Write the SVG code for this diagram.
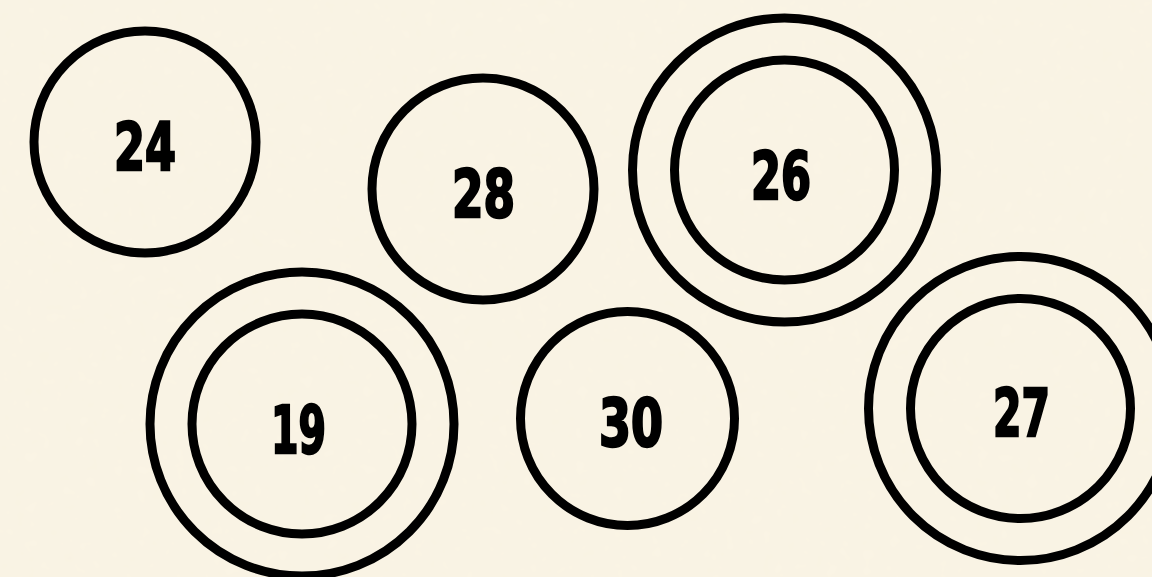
<svg xmlns="http://www.w3.org/2000/svg" width="1152" height="577" viewBox="0 0 1152 577">
<style>
.ring{fill:none;stroke:#000;stroke-width:9}
.lbl{font-family:"DejaVu Sans","Liberation Sans",sans-serif;font-stretch:condensed;font-weight:bold;font-size:65px;fill:#000;stroke:#000;stroke-width:2.4;stroke-linejoin:miter;text-anchor:middle}
</style>
<defs>
<filter id="grain" x="0" y="0" width="100%" height="100%">
<feTurbulence type="fractalNoise" baseFrequency="0.08" numOctaves="2" seed="3" result="n"/>
<feColorMatrix in="n" type="matrix" values="0 0 0 0 0.6  0 0 0 0 0.55  0 0 0 0 0.4  0 0 0 0.035 0"/>
</filter>
</defs>
<rect width="1152" height="577" fill="#faf4e5"/>
<rect width="1152" height="577" filter="url(#grain)"/>
<g id="node-24">
<circle class="ring" cx="145" cy="142" r="111"/>
<text class="lbl" x="145" y="170" textLength="62" lengthAdjust="spacingAndGlyphs">24</text>
</g>
<g id="node-28">
<circle class="ring" cx="483" cy="189" r="111"/>
<text class="lbl" x="483.5" y="217" textLength="63" lengthAdjust="spacingAndGlyphs">28</text>
</g>
<g id="node-26">
<circle class="ring" cx="784.5" cy="170" r="152"/>
<circle class="ring" cx="784.5" cy="170" r="110"/>
<text class="lbl" x="781" y="199" textLength="60" lengthAdjust="spacingAndGlyphs">26</text>
</g>
<g id="node-19">
<circle class="ring" cx="302" cy="424" r="152"/>
<circle class="ring" cx="302" cy="424" r="110"/>
<text class="lbl" x="298.5" y="453" textLength="55" lengthAdjust="spacingAndGlyphs">19</text>
</g>
<g id="node-30">
<circle class="ring" cx="627.5" cy="418.5" r="107"/>
<text class="lbl" x="631" y="446" textLength="64" lengthAdjust="spacingAndGlyphs">30</text>
</g>
<g id="node-27">
<circle class="ring" cx="1020.5" cy="408.5" r="152"/>
<circle class="ring" cx="1020.5" cy="408.5" r="110"/>
<text class="lbl" x="1021.5" y="436" textLength="57" lengthAdjust="spacingAndGlyphs">27</text>
</g>
<g id="connectors"/>
</svg>
